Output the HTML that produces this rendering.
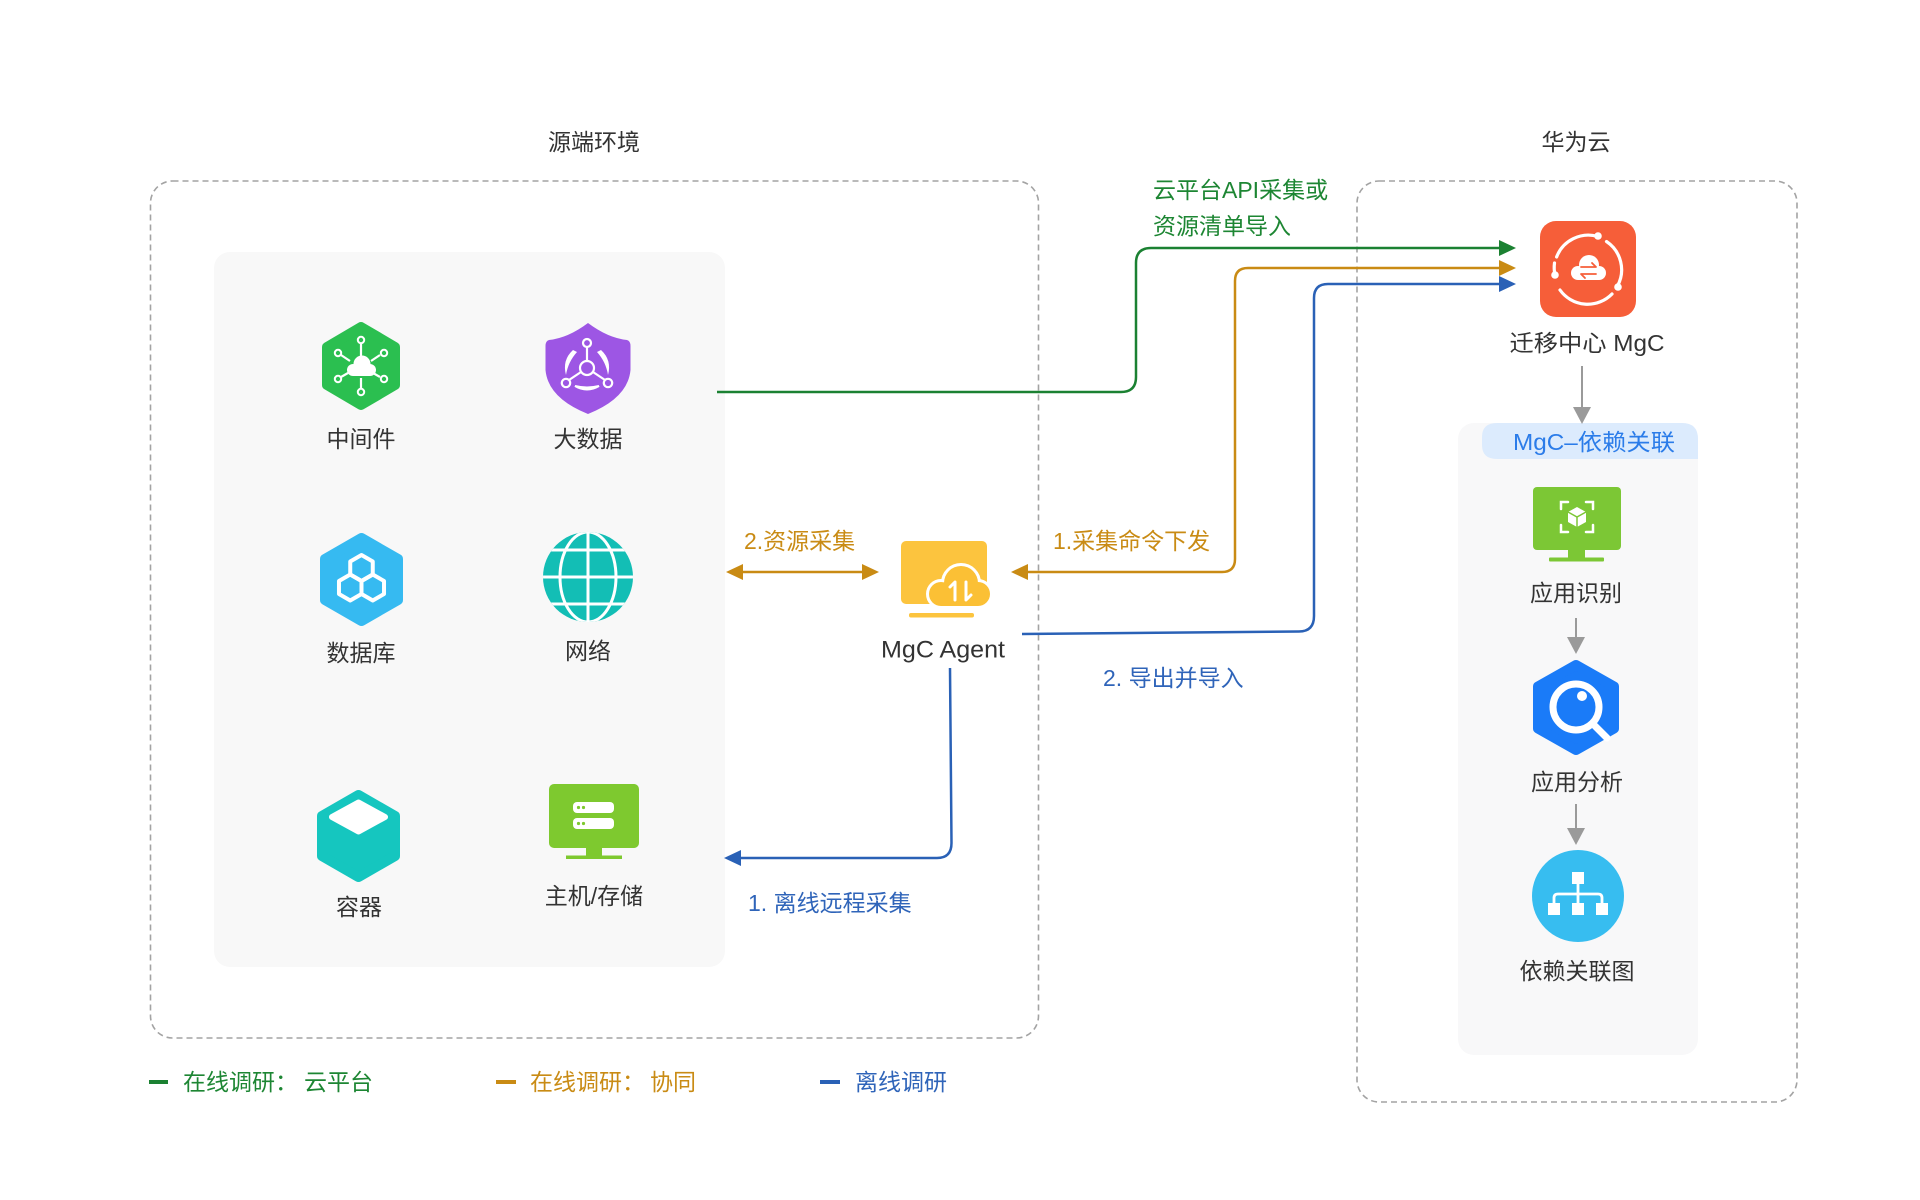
<!DOCTYPE html>
<html>
<head>
<meta charset="utf-8">
<style>
  html,body{margin:0;padding:0;background:#ffffff;}
  svg{display:block;}
  text{font-family:"Liberation Sans","Noto Sans CJK SC",sans-serif;}
</style>
</head>
<body>
<svg width="1920" height="1200" viewBox="0 0 1920 1200" xmlns="http://www.w3.org/2000/svg">
  <rect x="0" y="0" width="1920" height="1200" fill="#ffffff"/>

  <!-- Titles -->
  <text x="594" y="142" font-size="23" fill="#333" text-anchor="middle" dominant-baseline="central">源端环境</text>
  <text x="1576" y="142" font-size="23" fill="#333" text-anchor="middle" dominant-baseline="central">华为云</text>

  <!-- Dashed containers -->
  <rect x="150.5" y="181" width="888" height="857" rx="22" fill="none" stroke="#a3a3a3" stroke-width="1.6" stroke-dasharray="6 4"/>
  <rect x="1357" y="181" width="440" height="921" rx="22" fill="none" stroke="#a3a3a3" stroke-width="1.6" stroke-dasharray="6 4"/>

  <!-- Inner panels -->
  <rect x="214" y="252" width="511" height="715" rx="16" fill="#f8f8f8"/>
  <rect x="1458" y="423" width="240" height="632" rx="16" fill="#f8f8f9"/>
  <path d="M1497,423 H1682 Q1698,423 1698,439 V459 H1497 Q1482,459 1482,445 V437 Q1482,423 1497,423 Z" fill="#dcebfd"/>
  <text x="1594" y="442" font-size="23" fill="#2b7ce9" text-anchor="middle" dominant-baseline="central" textLength="162" lengthAdjust="spacingAndGlyphs">MgC–依赖关联</text>

  <!-- ========== Left icons ========== -->
  <!-- 中间件 green hexagon -->
  <polygon points="361,327 395,347 395,385 361,405 327,385 327,347" fill="#2bbf50" stroke="#2bbf50" stroke-width="10" stroke-linejoin="round"/>
  <g stroke="#fff" stroke-width="2.2" fill="none">
    <line x1="361" y1="343" x2="361" y2="358"/>
    <line x1="361" y1="378" x2="361" y2="389"/>
    <line x1="341" y1="355" x2="350" y2="361"/>
    <line x1="380" y1="355" x2="371" y2="361"/>
    <line x1="341" y1="377" x2="348" y2="373"/>
    <line x1="380" y1="377" x2="373" y2="373"/>
  </g>
  <g fill="#2bbf50" stroke="#fff" stroke-width="2">
    <circle cx="361" cy="340" r="3.2"/>
    <circle cx="361" cy="392" r="3.2"/>
    <circle cx="338" cy="353" r="3.2"/>
    <circle cx="384" cy="353" r="3.2"/>
    <circle cx="338" cy="379" r="3.2"/>
    <circle cx="384" cy="379" r="3.2"/>
  </g>
  <g fill="#fff">
    <circle cx="362" cy="364" r="8.5"/>
    <circle cx="353" cy="370" r="6"/>
    <circle cx="370" cy="370" r="6"/>
    <rect x="353" y="368" width="17" height="8"/>
  </g>
  <text x="361" y="439" font-size="23" fill="#333" text-anchor="middle" dominant-baseline="central">中间件</text>

  <!-- 大数据 purple shield -->
  <path d="M588,323 Q568,338 549,340 Q545.5,341 545.5,346 V370 Q548,398 588,414 Q628,398 630.5,370 V346 Q630.5,341 627,340 Q608,338 588,323 Z" fill="#9d56e4"/>
  <g stroke="#fff" stroke-width="2.2" fill="none">
    <line x1="587" y1="347" x2="587" y2="361"/>
    <line x1="581" y1="372" x2="569" y2="380"/>
    <line x1="593" y1="372" x2="605" y2="380"/>
    <circle cx="587" cy="343" r="4"/>
    <circle cx="587" cy="368" r="7"/>
    <circle cx="566" cy="383" r="4.2"/>
    <circle cx="608" cy="383" r="4.2"/>
  </g>
  <g fill="#fff">
    <path d="M573,350 Q562,360 566,375 Q568,362 577,352 Z"/>
    <path d="M601,350 Q612,360 608,375 Q606,362 597,352 Z"/>
    <path d="M575,386 Q587,393 599,386 Q587,389 575,386 Z" stroke="#fff" stroke-width="2"/>
  </g>
  <text x="588" y="439" font-size="23" fill="#333" text-anchor="middle" dominant-baseline="central">大数据</text>

  <!-- 数据库 blue hexagon -->
  <polygon points="361.5,538 398,559 398,600 361.5,621 325,600 325,559" fill="#36baf1" stroke="#36baf1" stroke-width="10" stroke-linejoin="round"/>
  <g fill="none" stroke="#fff" stroke-width="4" stroke-linejoin="round">
    <polygon points="361.5,555 372.76,561.5 372.76,574.5 361.5,581 350.24,574.5 350.24,561.5"/>
    <polygon points="350.24,574.5 361.5,581 361.5,594 350.24,600.5 338.98,594 338.98,581"/>
    <polygon points="372.76,574.5 384.02,581 384.02,594 372.76,600.5 361.5,594 361.5,581"/>
  </g>
  <text x="361" y="653" font-size="23" fill="#333" text-anchor="middle" dominant-baseline="central">数据库</text>

  <!-- 网络 globe -->
  <defs>
    <clipPath id="globeClip"><circle cx="588" cy="577" r="45"/></clipPath>
  </defs>
  <circle cx="588" cy="577" r="45" fill="#13beb5"/>
  <g clip-path="url(#globeClip)" stroke="#fff" stroke-width="3" fill="none">
    <line x1="540" y1="577" x2="636" y2="577"/>
    <line x1="540" y1="550" x2="636" y2="550"/>
    <line x1="540" y1="604" x2="636" y2="604"/>
    <line x1="588" y1="530" x2="588" y2="624"/>
    <ellipse cx="588" cy="577" rx="28" ry="45"/>
  </g>
  <text x="588" y="651" font-size="23" fill="#333" text-anchor="middle" dominant-baseline="central">网络</text>

  <!-- 容器 cube -->
  <polygon points="358.5,795 395,816 395,856 358.5,877 322,856 322,816" fill="#15c6bf" stroke="#15c6bf" stroke-width="10" stroke-linejoin="round"/>
  <polygon points="332,817 358.5,802.5 385,817 358.5,831.5" fill="#fff" stroke="#fff" stroke-width="6" stroke-linejoin="round"/>
  <text x="359" y="907" font-size="23" fill="#333" text-anchor="middle" dominant-baseline="central">容器</text>

  <!-- 主机/存储 monitor -->
  <rect x="549" y="784" width="90" height="64" rx="5" fill="#7ec92f"/>
  <rect x="586" y="847" width="16" height="9" fill="#7ec92f"/>
  <rect x="566" y="855.5" width="56" height="3.5" fill="#7ec92f"/>
  <rect x="573" y="802" width="41" height="11" rx="4" fill="#fff"/>
  <rect x="573" y="818" width="41" height="11" rx="4" fill="#fff"/>
  <g fill="#7ec92f">
    <circle cx="578.5" cy="807.5" r="1.6"/><circle cx="583.5" cy="807.5" r="1.6"/>
    <circle cx="578.5" cy="823.5" r="1.6"/><circle cx="583.5" cy="823.5" r="1.6"/>
  </g>
  <text x="594" y="896" font-size="23" fill="#333" text-anchor="middle" dominant-baseline="central">主机/存储</text>

  <!-- ========== MgC Agent ========== -->
  <rect x="901" y="541" width="86" height="63" rx="5" fill="#fcc43e"/>
  <rect x="909" y="613" width="65" height="4.5" rx="2" fill="#fcc43e"/>
  <g fill="none" stroke="#fff" stroke-width="6">
    <circle cx="961" cy="583" r="17"/>
    <circle cx="941" cy="594" r="12"/>
    <circle cx="978" cy="594" r="12"/>
    <rect x="941" y="594" width="37" height="12"/>
  </g>
  <g fill="#fbc035">
    <circle cx="961" cy="583" r="17"/>
    <circle cx="941" cy="594" r="12"/>
    <circle cx="978" cy="594" r="12"/>
    <rect x="941" y="594" width="37" height="12"/>
  </g>
  <g stroke="#fff" stroke-width="3" fill="none" stroke-linecap="round" stroke-linejoin="round">
    <path d="M955,600 V582 L950,587"/>
    <path d="M966,582 V600 L971,595"/>
  </g>
  <text x="943" y="650" font-size="24" fill="#333" text-anchor="middle" dominant-baseline="central" textLength="124" lengthAdjust="spacingAndGlyphs">MgC Agent</text>

  <!-- ========== Connectors ========== -->
  <!-- Green: cloud platform API -->
  <path d="M717,392 H1121 Q1136,392 1136,377 V263 Q1136,248 1151,248 H1500" fill="none" stroke="#1b8132" stroke-width="2.5"/>
  <polygon points="1499,240 1516,248 1499,256" fill="#1b8132"/>
  <text x="1153" y="190" font-size="23" fill="#1d8633" dominant-baseline="central">云平台API采集或</text>
  <text x="1153" y="226" font-size="23" fill="#1d8633" dominant-baseline="central">资源清单导入</text>

  <!-- Orange: command dispatch -->
  <path d="M1027,572 H1222 Q1235,572 1235,559 V281 Q1235,268 1248,268 H1500" fill="none" stroke="#c98b14" stroke-width="2.5"/>
  <polygon points="1011,572 1028,564 1028,580" fill="#c98b14"/>
  <polygon points="1499,260 1516,268 1499,276" fill="#c98b14"/>
  <text x="1053" y="541" font-size="23" fill="#c98b14" dominant-baseline="central">1.采集命令下发</text>

  <!-- Orange double arrow: resource collection -->
  <line x1="742" y1="572" x2="863" y2="572" stroke="#c98b14" stroke-width="2.5"/>
  <polygon points="726,572 743,564 743,580" fill="#c98b14"/>
  <polygon points="879,572 862,564 862,580" fill="#c98b14"/>
  <text x="744" y="541" font-size="23" fill="#c98b14" dominant-baseline="central">2.资源采集</text>

  <!-- Blue: export & import -->
  <path d="M1022,634 L1299,631.5 Q1314,631.5 1314,616 V298 Q1314,284 1328,284 H1500" fill="none" stroke="#2a61b6" stroke-width="2.5"/>
  <polygon points="1499,276 1516,284 1499,292" fill="#2a61b6"/>
  <text x="1103" y="678" font-size="23" fill="#2f64b9" dominant-baseline="central">2. 导出并导入</text>

  <!-- Blue: offline remote collection -->
  <path d="M950,668 L951.5,843 Q951.5,858 937,858 H739" fill="none" stroke="#2a61b6" stroke-width="2.5"/>
  <polygon points="724,858 741,850 741,866" fill="#2a61b6"/>
  <text x="748" y="903" font-size="23" fill="#2f64b9" dominant-baseline="central">1. 离线远程采集</text>

  <!-- ========== Right side ========== -->
  <!-- MgC orange icon -->
  <rect x="1540" y="221" width="96" height="96" rx="16" fill="#f65e39"/>
  <g fill="none" stroke="#fff" stroke-width="3.2" stroke-linecap="round">
    <path d="M1556.6,257 A34,34 0 0 1 1597.9,236.5"/>
    <path d="M1606.5,241.5 A34,34 0 0 1 1617.5,286"/>
    <path d="M1612,294 A34,34 0 0 1 1560,290"/>
    <path d="M1555,275 A34,34 0 0 1 1554.5,263"/>
  </g>
  <g fill="#fff">
    <circle cx="1598" cy="236" r="3.8"/>
    <circle cx="1618" cy="287" r="3.8"/>
    <circle cx="1555" cy="275" r="3.8"/>
    <circle cx="1589" cy="265" r="10"/>
    <circle cx="1578" cy="273" r="7"/>
    <circle cx="1599" cy="273" r="7"/>
    <rect x="1578" y="272" width="21" height="8"/>
  </g>
  <g stroke="#f65e39" stroke-width="1.8" fill="none" stroke-linecap="round" stroke-linejoin="round">
    <path d="M1581,267 H1596 L1592,263"/>
    <path d="M1596,274 H1581 L1585,278"/>
  </g>
  <text x="1587" y="343" font-size="23" fill="#333" text-anchor="middle" dominant-baseline="central" textLength="155" lengthAdjust="spacingAndGlyphs">迁移中心 MgC</text>

  <!-- gray arrow 1 -->
  <line x1="1582" y1="366" x2="1582" y2="409" stroke="#9a9a9a" stroke-width="2"/>
  <polygon points="1573,407 1591,407 1582,424" fill="#9a9a9a"/>

  <!-- 应用识别 -->
  <rect x="1533" y="487" width="88" height="63" rx="4" fill="#7cc735"/>
  <rect x="1568" y="549" width="17" height="9" fill="#7cc735"/>
  <rect x="1549" y="557.5" width="55" height="4" rx="1" fill="#7cc735"/>
  <g fill="none" stroke="#fff" stroke-width="2.5" stroke-linecap="round">
    <path d="M1561,509 V502 H1568"/>
    <path d="M1586,502 H1593 V509"/>
    <path d="M1593,525 V532 H1586"/>
    <path d="M1568,532 H1561 V525"/>
  </g>
  <polygon points="1577,507 1586,512 1586,522 1577,527 1568,522 1568,512" fill="#fff"/>
  <g stroke="#7cc735" stroke-width="1.5" fill="none">
    <path d="M1568,512 L1577,517 L1586,512"/>
    <line x1="1577" y1="517" x2="1577" y2="527"/>
  </g>
  <text x="1576" y="593" font-size="23" fill="#333" text-anchor="middle" dominant-baseline="central">应用识别</text>

  <!-- gray arrow 2 -->
  <line x1="1576" y1="618" x2="1576" y2="639" stroke="#9a9a9a" stroke-width="2"/>
  <polygon points="1567,637 1585,637 1576,654" fill="#9a9a9a"/>

  <!-- 应用分析 blue hexagon -->
  <polygon points="1576,665 1614,686.5 1614,728.5 1576,750 1538,728.5 1538,686.5" fill="#1a7bf8" stroke="#1a7bf8" stroke-width="10" stroke-linejoin="round"/>
  <line x1="1595" y1="726" x2="1607" y2="738" stroke="#fff" stroke-width="7" stroke-linecap="round"/>
  <circle cx="1576" cy="707" r="23" fill="none" stroke="#fff" stroke-width="7"/>
  <circle cx="1582" cy="696" r="5" fill="#fff"/>
  <text x="1577" y="782" font-size="23" fill="#333" text-anchor="middle" dominant-baseline="central">应用分析</text>

  <!-- gray arrow 3 -->
  <line x1="1576" y1="804" x2="1576" y2="830" stroke="#9a9a9a" stroke-width="2"/>
  <polygon points="1567,828 1585,828 1576,845" fill="#9a9a9a"/>

  <!-- 依赖关联图 circle -->
  <circle cx="1578" cy="896" r="46" fill="#37bdf0"/>
  <g fill="#fff">
    <rect x="1572" y="872" width="12" height="12"/>
    <rect x="1548" y="903" width="12" height="12"/>
    <rect x="1572" y="903" width="12" height="12"/>
    <rect x="1596" y="903" width="12" height="12"/>
  </g>
  <g stroke="#fff" stroke-width="2.8" fill="none" stroke-linejoin="round">
    <line x1="1578" y1="884" x2="1578" y2="903"/>
    <path d="M1554,903 V898 Q1554,894 1558,894 H1598 Q1602,894 1602,898 V903"/>
  </g>
  <text x="1577" y="971" font-size="23" fill="#333" text-anchor="middle" dominant-baseline="central">依赖关联图</text>

  <!-- ========== Legend ========== -->
  <rect x="149" y="1080" width="19" height="4" fill="#1b8132"/>
  <text x="183" y="1082" font-size="23" fill="#1d8633" dominant-baseline="central">在线调研：</text>
  <text x="304" y="1082" font-size="23" fill="#1d8633" dominant-baseline="central">云平台</text>

  <rect x="496" y="1080" width="20" height="4" fill="#c98b14"/>
  <text x="530" y="1082" font-size="23" fill="#c98b14" dominant-baseline="central">在线调研：</text>
  <text x="650" y="1082" font-size="23" fill="#c98b14" dominant-baseline="central">协同</text>

  <rect x="820" y="1080" width="20" height="4" fill="#2a61b6"/>
  <text x="855" y="1082" font-size="23" fill="#2f64b9" dominant-baseline="central">离线调研</text>
</svg>
</body>
</html>
